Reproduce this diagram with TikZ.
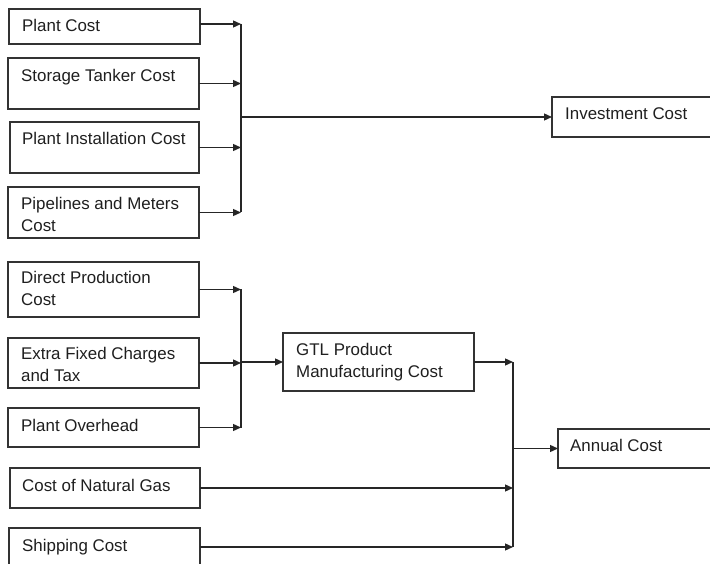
\documentclass[tikz,border=0pt]{standalone}
\usepackage{fontspec}
\setmainfont{Liberation Sans}
\usetikzlibrary{arrows.meta}
\begin{document}
\begin{tikzpicture}[x=1pt,y=-1pt,
  box/.style={draw=black!80,line width=1.3pt,anchor=north west,inner sep=0pt,outer sep=0pt},
  lbl/.style={anchor=north west,inner sep=0pt,align=left,font=\fontsize{16.9}{22}\selectfont,text=black!88},
  conn/.style={draw=black!85,line width=1.3pt},
  arr/.style={conn,-{Triangle[length=8pt,width=7pt]}}]
\clip (0,0) rectangle (710,564);
\fill[white] (0,0) rectangle (710,564);
% boxes
\node[box,minimum width=191pt,minimum height=35pt] (pc) at (9,9) {};
\node[box,minimum width=191pt,minimum height=51pt] (st) at (8,58) {};
\node[box,minimum width=189pt,minimum height=51pt] (pi) at (10,122) {};
\node[box,minimum width=191pt,minimum height=51pt] (pm) at (8,187) {};
\node[box,minimum width=191pt,minimum height=55pt] (dp) at (8,262) {};
\node[box,minimum width=191pt,minimum height=50pt] (ef) at (8,338) {};
\node[box,minimum width=191pt,minimum height=39pt] (po) at (8,408) {};
\node[box,minimum width=190pt,minimum height=40pt] (ng) at (10,468) {};
\node[box,minimum width=191pt,minimum height=38pt] (sh) at (9,528) {};
\node[box,minimum width=170pt,minimum height=40pt] (inv) at (552,97) {};
\node[box,minimum width=191pt,minimum height=58pt] (gtl) at (283,333) {};
\node[box,minimum width=170pt,minimum height=39pt] (ann) at (558,429) {};
% labels
\node[lbl] (pcT) at ([shift={(13,10)}]pc.north west) {Plant Cost};
\node[lbl] (stT) at ([shift={(13,11)}]st.north west) {Storage Tanker Cost};
\node[lbl] (piT) at ([shift={(12,10)}]pi.north west) {Plant Installation Cost};
\node[lbl] (pmT) at ([shift={(13,10)}]pm.north west) {Pipelines and Meters\\Cost};
\node[lbl] (dpT) at ([shift={(13,9)}]dp.north west) {Direct Production\\Cost};
\node[lbl] (efT) at ([shift={(13,9)}]ef.north west) {Extra Fixed Charges\\and Tax};
\node[lbl] (poT) at ([shift={(13,11)}]po.north west) {Plant Overhead};
\node[lbl] (ngT) at ([shift={(12,11)}]ng.north west) {Cost of Natural Gas};
\node[lbl] (shT) at ([shift={(13,11)}]sh.north west) {Shipping Cost};
\node[lbl] (invT) at ([shift={(13,11)}]inv.north west) {Investment Cost};
\node[lbl] (gtlT) at ([shift={(13,10)}]gtl.north west) {GTL Product\\Manufacturing Cost};
\node[lbl] (annT) at ([shift={(12,10)}]ann.north west) {Annual Cost};
% bus coordinates
\coordinate (b1) at (241,0);
\coordinate (b2) at (241,0);
\coordinate (b3) at (513,0);
% investment group
\draw[arr] ([yshift=2.5]pc.east) -- ([yshift=2.5]pc.east -| b1);
\draw[arr] (st.east) -- (st.east -| b1);
\draw[arr] (pi.east) -- (pi.east -| b1);
\draw[arr] (pm.east) -- (pm.east -| b1);
\draw[conn] ([yshift=2.5]pc.east -| b1) -- (pm.east -| b1);
\draw[arr] (inv.west -| b1) -- (inv.west);
% manufacturing group
\draw[arr] (dp.east) -- (dp.east -| b2);
\draw[arr] (ef.east) -- (ef.east -| b2);
\draw[arr] (po.east) -- (po.east -| b2);
\draw[conn] (dp.east -| b2) -- (po.east -| b2);
\draw[arr] (gtl.west -| b2) -- (gtl.west);
% annual group
\draw[arr] (gtl.east) -- (gtl.east -| b3);
\draw[arr] (ng.east) -- (ng.east -| b3);
\draw[arr] (sh.east) -- (sh.east -| b3);
\draw[conn] (gtl.east -| b3) -- (sh.east -| b3);
\draw[arr] (ann.west -| b3) -- (ann.west);
\end{tikzpicture}
\end{document}
